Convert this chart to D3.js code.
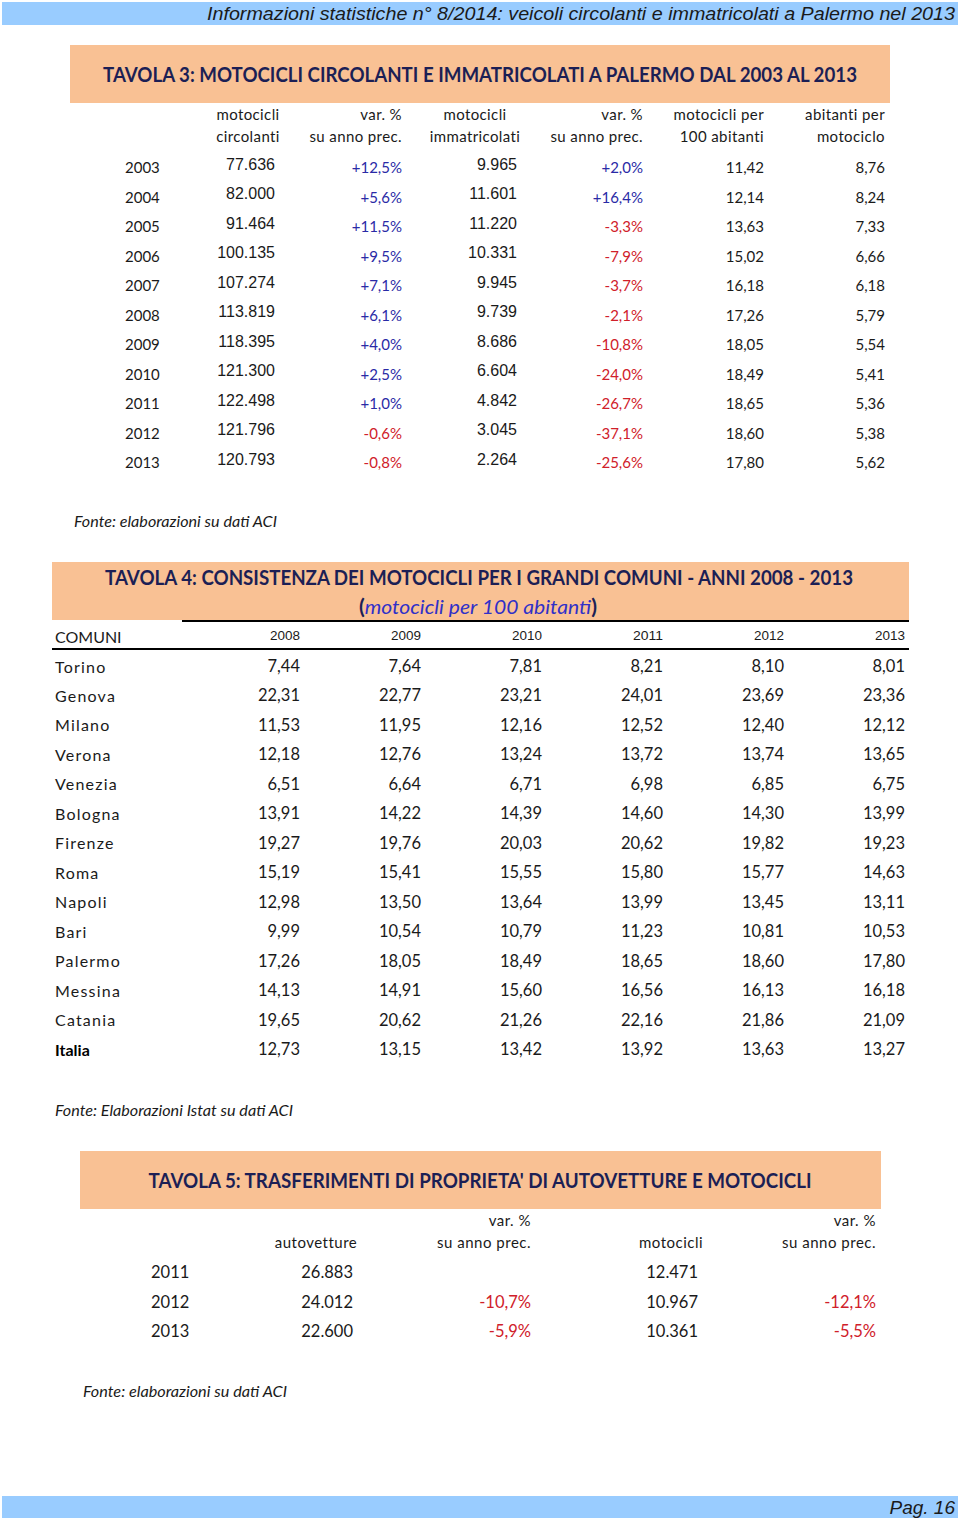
<!DOCTYPE html>
<html><head><meta charset="utf-8">
<script src="https://cdn.jsdelivr.net/npm/d3@7"></script>
<style>body{margin:0;background:#fff}svg{display:block}</style>
</head><body>
<script>
// ---------- DATA ----------
const pageHeader = "Informazioni statistiche n° 8/2014: veicoli circolanti e immatricolati a Palermo nel 2013";
const pageFooter = "Pag. 16";

const t3Title = "TAVOLA 3: MOTOCICLI CIRCOLANTI E IMMATRICOLATI A PALERMO DAL 2003 AL 2013";
const t3Headers = [["motocicli","circolanti"],["var. %","su anno prec."],["motocicli","immatricolati"],["var. %","su anno prec."],["motocicli per","100 abitanti"],["abitanti per","motociclo"]];
const t3Years = ["2003","2004","2005","2006","2007","2008","2009","2010","2011","2012","2013"];
const t3Circolanti = ["77.636","82.000","91.464","100.135","107.274","113.819","118.395","121.300","122.498","121.796","120.793"];
const t3VarCirc = ["+12,5%","+5,6%","+11,5%","+9,5%","+7,1%","+6,1%","+4,0%","+2,5%","+1,0%","-0,6%","-0,8%"];
const t3Immatricolati = ["9.965","11.601","11.220","10.331","9.945","9.739","8.686","6.604","4.842","3.045","2.264"];
const t3VarImm = ["+2,0%","+16,4%","-3,3%","-7,9%","-3,7%","-2,1%","-10,8%","-24,0%","-26,7%","-37,1%","-25,6%"];
const t3Per100 = ["11,42","12,14","13,63","15,02","16,18","17,26","18,05","18,49","18,65","18,60","17,80"];
const t3AbPer = ["8,76","8,24","7,33","6,66","6,18","5,79","5,54","5,41","5,36","5,38","5,62"];
const t3Source = "Fonte: elaborazioni su dati ACI";

const t4Title = "TAVOLA 4: CONSISTENZA DEI MOTOCICLI PER I GRANDI COMUNI - ANNI 2008 - 2013";
const t4Subtitle = "motocicli per 100 abitanti";
const t4Years = ["2008","2009","2010","2011","2012","2013"];
const t4Comuni = ["Torino","Genova","Milano","Verona","Venezia","Bologna","Firenze","Roma","Napoli","Bari","Palermo","Messina","Catania","Italia"];
const t4Values = [
  ["7,44","7,64","7,81","8,21","8,10","8,01"],
  ["22,31","22,77","23,21","24,01","23,69","23,36"],
  ["11,53","11,95","12,16","12,52","12,40","12,12"],
  ["12,18","12,76","13,24","13,72","13,74","13,65"],
  ["6,51","6,64","6,71","6,98","6,85","6,75"],
  ["13,91","14,22","14,39","14,60","14,30","13,99"],
  ["19,27","19,76","20,03","20,62","19,82","19,23"],
  ["15,19","15,41","15,55","15,80","15,77","14,63"],
  ["12,98","13,50","13,64","13,99","13,45","13,11"],
  ["9,99","10,54","10,79","11,23","10,81","10,53"],
  ["17,26","18,05","18,49","18,65","18,60","17,80"],
  ["14,13","14,91","15,60","16,56","16,13","16,18"],
  ["19,65","20,62","21,26","22,16","21,86","21,09"],
  ["12,73","13,15","13,42","13,92","13,63","13,27"]
];
const t4Source = "Fonte: Elaborazioni Istat su dati ACI";

const t5Title = "TAVOLA 5: TRASFERIMENTI DI PROPRIETA' DI AUTOVETTURE E MOTOCICLI";
const t5Years = ["2011","2012","2013"];
const t5Auto = ["26.883","24.012","22.600"];
const t5VarAuto = ["","-10,7%","-5,9%"];
const t5Moto = ["12.471","10.967","10.361"];
const t5VarMoto = ["","-12,1%","-5,5%"];
const t5Source = "Fonte: elaborazioni su dati ACI";

// ---------- STYLE ----------
const W = 960, H = 1526;
const cal = "Lato, 'Open Sans', sans-serif";
const ari = "'Liberation Sans', Arial, sans-serif";
const navy = "#1c1f55", orange = "#f9c194", blueBar = "#99ccff";
const posCol = "#2a2aa6", negCol = "#d0202a", txt = "#1a1a1a";

const svg = d3.select("body").append("svg").attr("width", W).attr("height", H);

function text(g, x, y, s, o = {}) {
  const t = g.append("text").attr("x", x).attr("y", y).text(s)
    .attr("dominant-baseline", "central")
    .attr("text-anchor", o.anchor || "start")
    .attr("font-family", o.font || cal)
    .attr("font-size", o.size || 15)
    .attr("font-weight", o.weight || "normal")
    .attr("font-style", o.style || "normal")
    .attr("fill", o.fill || txt);
  if (o.ls) t.attr("letter-spacing", o.ls);
  if (o.len) t.attr("textLength", o.len).attr("lengthAdjust", "spacingAndGlyphs");
  return t;
}
const signColor = v => v.startsWith("-") ? negCol : posCol;

// ---------- PAGE BARS ----------
svg.append("rect").attr("x", 2).attr("y", 2).attr("width", 956).attr("height", 23).attr("fill", blueBar);
text(svg, 955, 13.5, pageHeader, {anchor: "end", font: ari, size: 19, style: "italic", len: 748});
svg.append("rect").attr("x", 2).attr("y", 1496).attr("width", 956).attr("height", 22).attr("fill", blueBar);
text(svg, 955, 1507, pageFooter, {anchor: "end", font: ari, size: 19, style: "italic"});

// ---------- TAVOLA 3 ----------
const g3 = svg.append("g");
g3.append("rect").attr("x", 70).attr("y", 45).attr("width", 820).attr("height", 58).attr("fill", orange);
text(g3, 480, 74, t3Title, {anchor: "middle", size: 20, weight: "bold", fill: navy, len: 754});

const x3 = d3.scaleOrdinal().domain(d3.range(6)).range([280, 402, 522, 643, 764, 885]);
const y3 = d3.scalePoint().domain(t3Years).range([167, 462]);

t3Headers.forEach((h, i) => {
  const anchor = (i === 0 || i === 2) ? "middle" : "end";
  const x = i === 0 ? 248 : i === 2 ? 475 : x3(i);
  text(g3, x, 114, h[0], {anchor, ls: 0.4});
  text(g3, x, 136, h[1], {anchor, ls: 0.4});
});
const cols3 = [
  {vals: t3Circolanti, x: 275, font: ari, dy: -3},
  {vals: t3VarCirc, x: 402, color: true},
  {vals: t3Immatricolati, x: 517, font: ari, dy: -3},
  {vals: t3VarImm, x: 643, color: true},
  {vals: t3Per100, x: 764},
  {vals: t3AbPer, x: 885}
];
t3Years.forEach((yr, r) => {
  const y = y3(yr);
  text(g3, 125, y, yr);
  cols3.forEach(c => {
    const v = c.vals[r];
    text(g3, c.x, y + (c.dy || 0), v, {anchor: "end", font: c.font || cal, size: c.font ? 16 : 15, fill: c.color ? signColor(v) : txt});
  });
});
text(g3, 74, 521, t3Source, {size: 15, style: "italic", len: 203});

// ---------- TAVOLA 4 ----------
const g4 = svg.append("g");
g4.append("rect").attr("x", 52).attr("y", 562).attr("width", 857).attr("height", 58).attr("fill", orange);
text(g4, 479, 577, t4Title, {anchor: "middle", size: 20, weight: "bold", fill: navy, len: 748});
const sub = g4.append("text").attr("x", 478).attr("y", 606).attr("text-anchor", "middle")
  .attr("dominant-baseline", "central").attr("font-family", cal).attr("font-size", 20)
  .attr("textLength", 238).attr("lengthAdjust", "spacingAndGlyphs");
sub.append("tspan").attr("font-weight", "bold").attr("fill", navy).text("(");
sub.append("tspan").attr("font-style", "italic").attr("fill", "#3030c8").text(t4Subtitle);
sub.append("tspan").attr("font-weight", "bold").attr("fill", navy).text(")");
g4.append("line").attr("x1", 182).attr("x2", 909).attr("y1", 621).attr("y2", 621).attr("stroke", "#000").attr("stroke-width", 2);
g4.append("line").attr("x1", 52).attr("x2", 909).attr("y1", 649).attr("y2", 649).attr("stroke", "#000").attr("stroke-width", 2);

const x4 = d3.scalePoint().domain(t4Years).range([300, 905]);
const y4 = d3.scalePoint().domain(t4Comuni).range([666, 1049]);
text(g4, 55, 636, "COMUNI", {size: 16});
t4Years.forEach(yr => text(g4, x4(yr), 635, yr, {anchor: "end", font: ari, size: 13, len: 30}));
t4Comuni.forEach((c, r) => {
  const bold = c === "Italia";
  text(g4, 55, y4(c), c, {size: 16, weight: bold ? "bold" : "normal", fill: bold ? "#000" : txt, ls: bold ? 0 : 1.2});
  t4Years.forEach((yr, j) => text(g4, x4(yr), y4(c), t4Values[r][j], {anchor: "end", size: 16.5}));
});
text(g4, 55, 1110, t4Source, {size: 15, style: "italic", len: 238});

// ---------- TAVOLA 5 ----------
const g5 = svg.append("g");
g5.append("rect").attr("x", 80).attr("y", 1151).attr("width", 801).attr("height", 58).attr("fill", orange);
text(g5, 480, 1180, t5Title, {anchor: "middle", size: 20, weight: "bold", fill: navy, len: 663});
text(g5, 531, 1220, "var. %", {anchor: "end", ls: 0.5});
text(g5, 876, 1220, "var. %", {anchor: "end", ls: 0.5});
text(g5, 316, 1242, "autovetture", {anchor: "middle", ls: 0.5});
text(g5, 531, 1242, "su anno prec.", {anchor: "end", ls: 0.5});
text(g5, 671, 1242, "motocicli", {anchor: "middle", ls: 0.5});
text(g5, 876, 1242, "su anno prec.", {anchor: "end", ls: 0.5});
const y5 = d3.scalePoint().domain(t5Years).range([1272, 1331]);
t5Years.forEach((yr, r) => {
  const y = y5(yr);
  text(g5, 151, y, yr, {size: 16.5});
  text(g5, 353, y, t5Auto[r], {anchor: "end", size: 16.5});
  text(g5, 531, y, t5VarAuto[r], {anchor: "end", size: 16.5, fill: negCol});
  text(g5, 698, y, t5Moto[r], {anchor: "end", size: 16.5});
  text(g5, 876, y, t5VarMoto[r], {anchor: "end", size: 16.5, fill: negCol});
});
text(g5, 83, 1391, t5Source, {size: 15, style: "italic", len: 204});
</script>
</body></html>
